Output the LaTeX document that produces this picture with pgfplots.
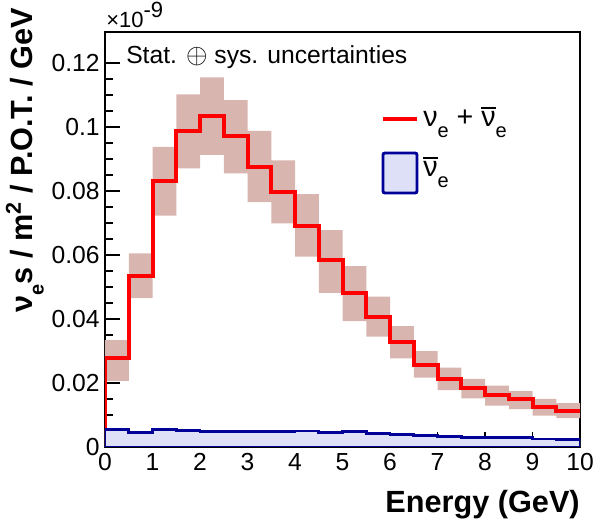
\documentclass[border=0pt]{standalone}
\usepackage{fontspec}
\setmainfont{Liberation Sans}
\usepackage{pgfplots}
\pgfplotsset{compat=1.18}
\usepackage{pgfplotstable}
\usepgfplotslibrary{fillbetween}

\definecolor{rootred}{RGB}{255,0,0}
\definecolor{rootnavy}{RGB}{0,0,153}
\definecolor{bandfill}{RGB}{216,181,175}
\definecolor{nuebarfill}{RGB}{222,224,247}

\newcommand{\lbl}{\fontsize{18.5}{21}\selectfont}
\newcommand{\titlefont}{\fontsize{23}{26}\selectfont}
\newcommand{\sub}[1]{\raisebox{-0.35em}{\fontsize{15}{17}\selectfont #1}}
% nu with a bar over it, bar a little heavier than \overline
\newcommand{\nubar}{\setbox0\hbox{ν}\rlap{\raisebox{\dimexpr\ht0+2.5pt\relax}{\rule{\wd0}{1.3pt}}}ν}

% nu_e + nubar_e, bins of 0.5 GeV (first row only starts the line at zero)
\pgfplotstableread{
x    y      lo     hi
0    0      0.0207 0.0334
0    0.0277 0.0207 0.0334
0.5  0.0534 0.0465 0.0605
1.0  0.0831 0.0723 0.0938
1.5  0.0988 0.0871 0.1102
2.0  0.1035 0.0913 0.1155
2.5  0.0972 0.0855 0.1084
3.0  0.0876 0.0765 0.0988
3.5  0.0798 0.0699 0.0896
4.0  0.0692 0.0595 0.0790
4.5  0.0584 0.0482 0.0678
5.0  0.0480 0.0393 0.0565
5.5  0.0407 0.0345 0.0470
6.0  0.0327 0.0277 0.0378
6.5  0.0256 0.0217 0.0300
7.0  0.0212 0.0178 0.0248
7.5  0.0183 0.0152 0.0213
8.0  0.0162 0.0129 0.0192
8.5  0.0149 0.0118 0.0175
9.0  0.0126 0.0098 0.0150
9.5  0.0113 0.0090 0.0137
10   0.0113 0.0090 0.0137
}\nueall

% nubar_e only
\pgfplotstableread{
x    y
0    0.0055
0.5  0.0045
1.0  0.0056
1.5  0.0052
2.0  0.0049
2.5  0.0049
3.0  0.0048
3.5  0.0048
4.0  0.0050
4.5  0.0045
5.0  0.0047
5.5  0.0041
6.0  0.0038
6.5  0.0036
7.0  0.0034
7.5  0.0031
8.0  0.0030
8.5  0.0029
9.0  0.0025
9.5  0.0024
10   0.0024
}\nuebar

\begin{document}
\begin{tikzpicture}
\begin{axis}[
    at={(0,0)}, anchor=south west,
    scale only axis,
    width=356.25pt, height=311.25pt,
    xmin=0, xmax=10,
    ymin=0, ymax=0.1297,
    axis line style={line width=1.1pt},
    tick align=inside,
    xtick={0,1,...,10},
    xtick pos=bottom, ytick pos=left,
    ytick={0,0.02,...,0.12},
    minor y tick num=3,
    major tick length=11pt,
    minor tick length=6pt,
    every tick/.style={black, line width=0.8pt},
    scaled y ticks=false,
    /pgf/number format/assume math mode=true,
    yticklabel style={/pgf/number format/fixed, /pgf/number format/precision=2,
        font=\lbl, inner sep=0pt, xshift=-3.8pt},
    xticklabel style={font=\lbl, inner sep=0pt, yshift=-4.5pt},
]
    \addplot[draw=none, const plot mark left, name path=hi, forget plot]
        table[x=x, y=hi] {\nueall};
    \addplot[draw=none, const plot mark left, name path=lo, forget plot]
        table[x=x, y=lo] {\nueall};
    \addplot[fill=bandfill, draw=none] fill between[of=hi and lo];

    \addplot[const plot mark left, draw=rootred, line width=3pt]
        table[x=x, y=y] {\nueall};

    \addplot[const plot mark left, draw=rootnavy, line width=2.2pt, fill=nuebarfill]
        table[x=x, y=y] {\nuebar} \closedcycle;
\end{axis}

% titles and labels
\node[anchor=base west, inner sep=0pt, font=\fontsize{16.5}{18}\selectfont]
    at (0.75pt,314.25pt) {×10\raisebox{7.5pt}{-9}};
\node[anchor=base west, inner sep=0pt, font=\lbl]
    at (15.75pt,287.25pt) {Stat. {\fontsize{21}{22}\selectfont$\oplus$} sys. uncertainties};
\node[anchor=base east, inner sep=0pt, font=\titlefont\bfseries, rotate=90]
    at (-54pt,329.25pt) {ν\sub{e}s / m\textsuperscript{2} / P.O.T. / GeV};
\node[anchor=base east, inner sep=0pt, font=\titlefont\bfseries]
    at (356.25pt,-49.5pt) {Energy (GeV)};

% legend
\draw[rootred, line width=3pt] (208.5pt,246pt) -- (234pt,246pt);
\node[anchor=base west, inner sep=0pt, font=\fontsize{21.5}{24}\selectfont]
    at (238.5pt,240pt) {ν\sub{e} + \nubar\sub{e}};
\draw[rootnavy, line width=2.2pt, fill=nuebarfill, rounded corners=1.5pt]
    (208.5pt,190.5pt) rectangle (234pt,220.5pt);
\node[anchor=base west, inner sep=0pt, font=\fontsize{21.5}{24}\selectfont]
    at (238.5pt,202.5pt) {\nubar\sub{e}};

\pgfresetboundingbox
\path (-78.75pt,-54.75pt) rectangle (366pt,335.25pt);
\end{tikzpicture}
\end{document}
